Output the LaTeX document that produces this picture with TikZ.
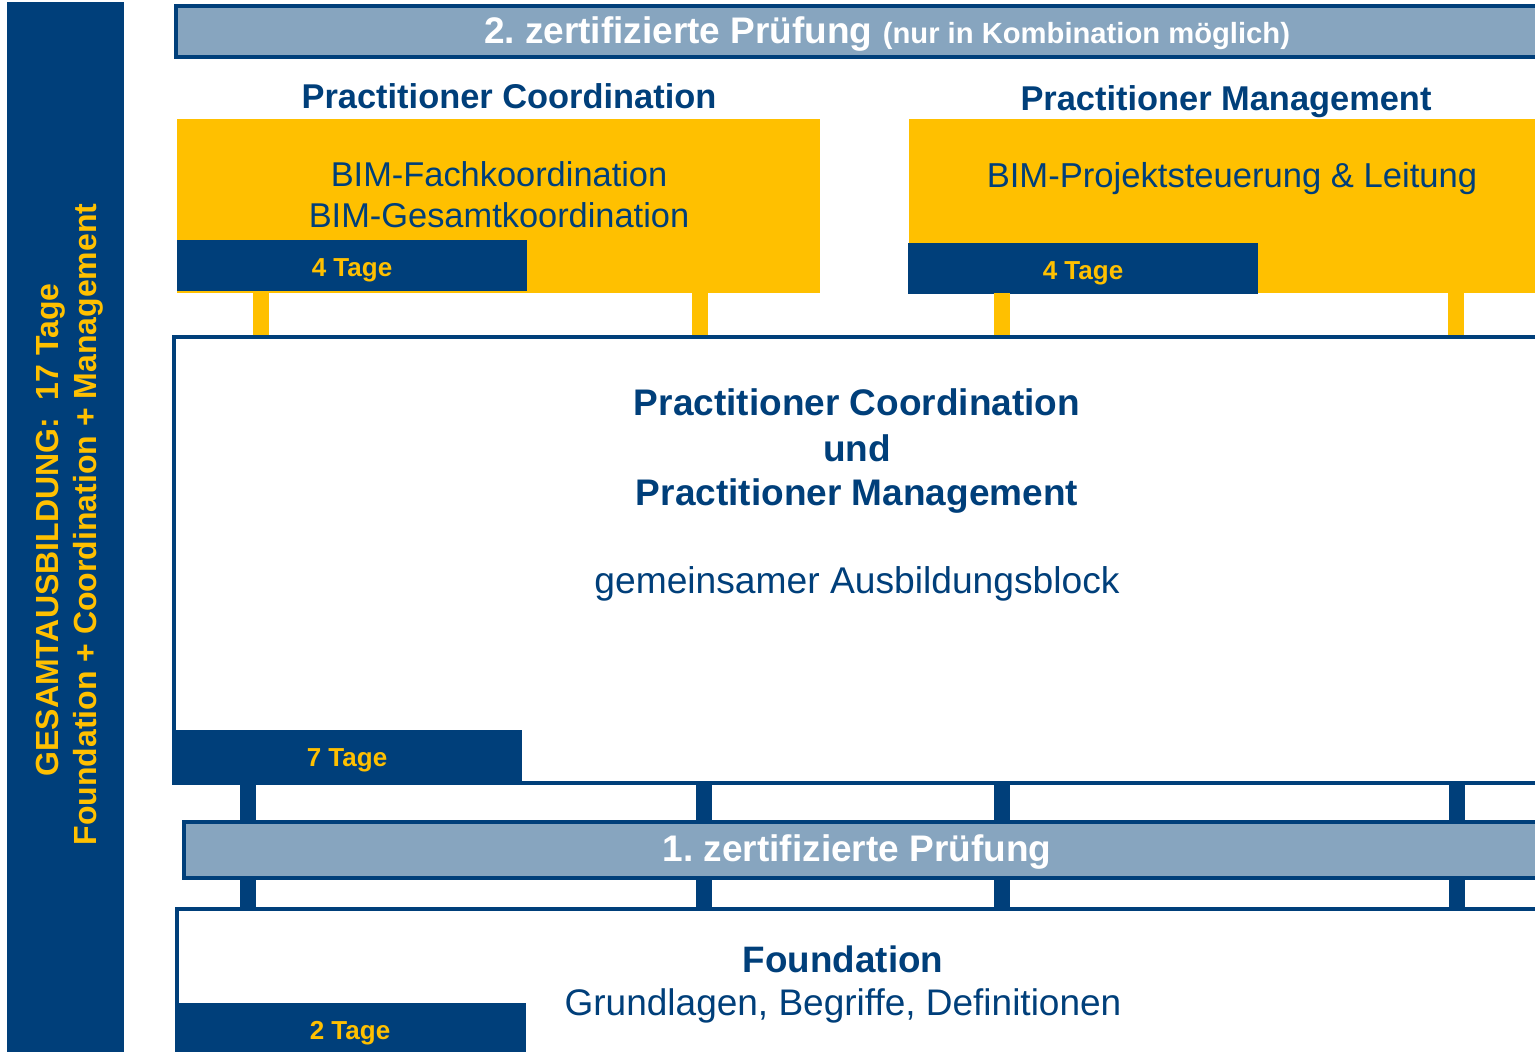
\documentclass[tikz,border=0pt]{standalone}
\usepackage{fontspec}
\setmainfont{Liberation Sans}
\frenchspacing
\definecolor{navy}{RGB}{0,63,122}
\definecolor{gold}{RGB}{255,192,0}
\definecolor{steel}{RGB}{135,165,191}
\tikzset{box/.style={rectangle,inner sep=0pt,outer sep=0pt}}
\tikzset{frame/.style={box,draw=navy,line width=1.75pt,fill=white}}
\tikzset{exam/.style={frame,fill=steel}}
\tikzset{days/.style={box,fill=navy,minimum width=175pt}}
\tikzset{txt/.style={inner sep=0pt,anchor=base,text=navy}}
\tikzset{dtxt/.style={txt,text=gold,font=\fontsize{13}{15}\selectfont\bfseries}}
\tikzset{yconn/.style={draw=gold,line width=8pt,shorten >=0.875pt}}
\tikzset{nconn/.style={draw=navy,line width=8pt}}

\begin{document}
\begin{tikzpicture}[x=0.5pt,y=-0.5pt]
      \useasboundingbox (0,0) rectangle (1535,1051);
      \clip (0,0) rectangle (1535,1051);
      % left bar
      \node[box,fill=navy,minimum width=58.5pt,minimum height=530pt] (side) at (65.5,532) {};
      \node[txt,text=gold,rotate=90,font=\fontsize{16}{19}\selectfont\bfseries] (side1) at (58,530) {GESAMTAUSBILDUNG:\ \ 17 Tage};
      \node[txt,text=gold,rotate=90,font=\fontsize{16}{19}\selectfont\bfseries] (side2) at (96,524.5) {Foundation + Coordination + Management};
      % boxes
      \node[exam,minimum width=711pt,minimum height=25.5pt] (exam2) at (887,31.5) {};
      \node[box,fill=gold,minimum width=321.5pt,minimum height=87pt] (ybL) at (498.5,206) {};
      \node[box,fill=gold,minimum width=345.5pt,minimum height=87pt] (ybR) at (1254.5,206) {};
      \node[days,minimum height=25.5pt] (dbL) at (352,265.5) {};
      \node[days,minimum height=25.5pt] (dbR) at (1083,268.5) {};
      \node[frame,minimum width=713pt,minimum height=223pt] (mid) at (887,560) {};
      \node[days,minimum height=27.5pt] (db7) at (347,757.5) {};
      \node[exam,minimum width=708pt,minimum height=28pt] (exam1) at (892,850) {};
      \node[frame,minimum width=711.5pt,minimum height=80.5pt] (found) at (888.5,989.5) {};
      \node[days,minimum width=175.5pt,minimum height=28.5pt] (db2) at (350.5,1031.5) {};
      % connectors
      \coordinate (ya) at (261,0);
      \coordinate (yb) at (700,0);
      \coordinate (yc) at (1002,0);
      \coordinate (yd) at (1456,0);
      \coordinate (na) at (248,0);
      \coordinate (nb) at (704,0);
      \coordinate (nc) at (1002,0);
      \coordinate (nd) at (1457,0);
      \foreach \c/\a in {ya/ybL,yb/ybL,yc/ybR,yd/ybR}
        \draw[yconn] (\a.south -| \c) -- (mid.north -| \c);
      \foreach \c in {na,nb,nc,nd}
        {\draw[nconn] (mid.south -| \c) -- (exam1.north -| \c);
         \draw[nconn] (exam1.south -| \c) -- (found.north -| \c);}
      % texts
      \node[txt,text=white,font=\fontsize{18.5}{22}\selectfont\bfseries] (exam2t) at (887,43) {2. zertifizierte Prüfung {\fontsize{14.6}{17}\selectfont(nur in Kombination möglich)}};
      \node[txt,font=\fontsize{17.2}{20}\selectfont\bfseries] (pcl) at (509,108) {Practitioner Coordination};
      \node[txt,font=\fontsize{17.2}{20}\selectfont\bfseries] (pml) at (1226,110) {Practitioner Management};
      \node[txt,font=\fontsize{17.2}{20}\selectfont] (ybL1) at (499,186) {BIM-Fachkoordination};
      \node[txt,font=\fontsize{17.2}{20}\selectfont] (ybL2) at (499,227) {BIM-Gesamtkoordination};
      \node[txt,font=\fontsize{17.3}{20}\selectfont] (ybR1) at (1232,187) {BIM-Projektsteuerung \& Leitung};
      \node[dtxt] (dbLt) at (352,276) {4 Tage};
      \node[dtxt] (dbRt) at (1083,279) {4 Tage};
      \node[txt,font=\fontsize{18.5}{22}\selectfont\bfseries] (mid1) at (857,415) {Practitioner Coordination};
      \node[txt,font=\fontsize{18.5}{22}\selectfont\bfseries] (mid2) at (857,461) {und};
      \node[txt,font=\fontsize{18.5}{22}\selectfont\bfseries] (mid3) at (857,505) {Practitioner Management};
      \node[txt,font=\fontsize{18.6}{22}\selectfont] (mid4) at (857,593) {gemeinsamer Ausbildungsblock};
      \node[dtxt] (db7t) at (347,766) {7 Tage};
      \node[txt,text=white,font=\fontsize{18.5}{22}\selectfont\bfseries] (exam1t) at (857,861) {1. zertifizierte Prüfung};
      \node[txt,font=\fontsize{18.4}{22}\selectfont\bfseries] (found1) at (843,972) {Foundation};
      \node[txt,font=\fontsize{18.5}{22}\selectfont] (found2) at (843,1015) {Grundlagen, Begriffe, Definitionen};
      \node[dtxt] (db2t) at (350,1039) {2 Tage};
\end{tikzpicture}
\end{document}
